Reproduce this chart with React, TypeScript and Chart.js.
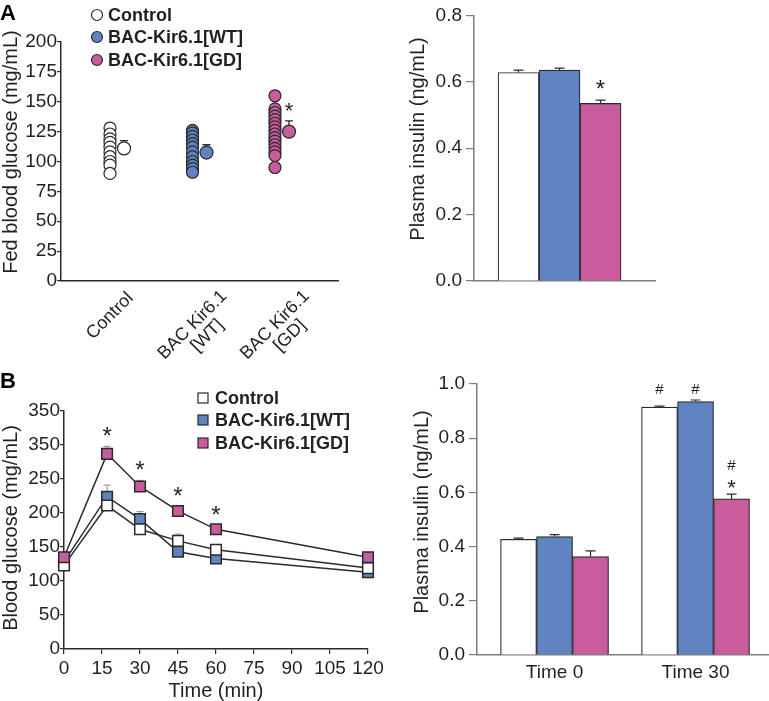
import React, { useEffect, useRef } from "react";
import { Chart, registerables } from "chart.js";

Chart.register(...registerables);

const FONT = "'Liberation Sans', Arial, Helvetica, sans-serif";
Chart.defaults.font.family = FONT;

const TEXT = "#231f20";
const DARK = "#2a2a2a";
const GREY_AXIS = "#7d7d7d";
const ERR_GREY = "#8c8c8c";
const BLUE = "#6083c2";
const PINK = "#c95c9c";
const WHITE = "#ffffff";

// ---------- Panel A (left): fed blood glucose ----------
const groupNames = ["Control", "BAC-Kir6.1[WT]", "BAC-Kir6.1[GD]"];
const groupAxisLabels = [["Control"], ["BAC Kir6.1", "[WT]"], ["BAC Kir6.1", "[GD]"]];
const fedControl = [128, 123, 119, 116, 112, 108, 104, 100, 97, 90];
const fedWT = [126, 124, 121, 118, 115, 112, 108, 104, 100, 97, 94, 91];
const fedGD = [155, 144, 141, 138, 135, 132, 129, 126, 123, 120, 117, 114, 111, 108, 105, 95];
const fedMean = [111, 107.5, 125];
const fedSem = [6.5, 6.5, 9];
const fedStarGroups = [2];

// ---------- Panel A (right): plasma insulin ----------
const insulinA = [0.628, 0.635, 0.535];
const insulinASem = [0.007, 0.006, 0.01];
const insulinAStars = [2];

// ---------- Panel B (left): glucose tolerance ----------
const ipgttTimes = [0, 17, 30, 45, 60, 120];
const ipgttControl = [123, 211, 176, 159, 146, 119];
const ipgttWT = [128, 224, 191, 143, 133, 113];
const ipgttGD = [135, 287, 239, 203, 176, 135];
const ipgttControlSem = [3, 5, 5, 10, 7, 4];
const ipgttWTSem = [3, 17, 11, 4, 4, 3];
const ipgttGDSem = [4, 11, 9, 7, 5, 4];
const ipgttStarIdx = [1, 2, 3, 4];
const ipgttYTickLabels = ["0", "50", "100", "150", "200", "250", "350", "350"];

// ---------- Panel B (right): plasma insulin at time 0 / 30 ----------
const insulinBTimes = ["Time 0", "Time 30"];
const insulinBControl = [0.427, 0.915];
const insulinBWT = [0.437, 0.935];
const insulinBGD = [0.363, 0.576];
const insulinBControlSem = [0.004, 0.003];
const insulinBWTSem = [0.007, 0.006];
const insulinBGDSem = [0.021, 0.018];
const insulinBMarks = [
  { ds: 0, idx: 1, text: "#", y: 0.983 },
  { ds: 1, idx: 1, text: "#", y: 0.983 },
  { ds: 2, idx: 1, text: "#", y: 0.702 },
  { ds: 2, idx: 1, text: "*", y: 0.632 },
];

const groupFill = [WHITE, BLUE, PINK];
const MEAN_DX = 0.17;

function valOf(raw: any) {
  return typeof raw === "number" ? raw : raw.y;
}

function drawErrors(chart: any, dsIndex: number, sems: number[], color: string, capHalf: number, lw: number) {
  const meta = chart.getDatasetMeta(dsIndex);
  const ys = chart.scales.y;
  const ctx = chart.ctx;
  const data = chart.data.datasets[dsIndex].data;
  ctx.save();
  ctx.strokeStyle = color;
  ctx.lineWidth = lw;
  meta.data.forEach((el: any, i: number) => {
    const v = valOf(data[i]);
    const base = ys.getPixelForValue(v);
    const top = ys.getPixelForValue(v + sems[i]);
    ctx.beginPath();
    ctx.moveTo(el.x, base);
    ctx.lineTo(el.x, top);
    ctx.moveTo(el.x - capHalf, top);
    ctx.lineTo(el.x + capHalf, top);
    ctx.stroke();
  });
  ctx.restore();
}

function centeredGlyph(ctx: any, text: string, x: number, cy: number, font: string, color: string) {
  ctx.save();
  ctx.font = font;
  ctx.fillStyle = color;
  ctx.textAlign = "center";
  ctx.textBaseline = "alphabetic";
  const m = ctx.measureText(text);
  const asc = m.actualBoundingBoxAscent || 0;
  const desc = m.actualBoundingBoxDescent || 0;
  ctx.fillText(text, x, cy + (asc - desc) / 2);
  ctx.restore();
}

function yTitle(ctx: any, text: string, cx: number, cy: number) {
  ctx.save();
  ctx.translate(cx, cy);
  ctx.rotate(-Math.PI / 2);
  ctx.font = `20px ${FONT}`;
  ctx.fillStyle = TEXT;
  ctx.textAlign = "center";
  ctx.textBaseline = "middle";
  ctx.fillText(text, 0, 0);
  ctx.restore();
}

function panelLetter(ctx: any, letter: string, x: number, y: number) {
  ctx.save();
  ctx.font = `bold 22px ${FONT}`;
  ctx.fillStyle = "#000";
  ctx.textAlign = "left";
  ctx.textBaseline = "alphabetic";
  ctx.fillText(letter, x, y);
  ctx.restore();
}

const tickFont = { size: 19, lineHeight: 1.2 };
const titleFont = { size: 20, lineHeight: 1 };

// ---------- configs ----------
function makeScatterA(): any {
  const groups = [fedControl, fedWT, fedGD];
  return {
    type: "scatter",
    data: {
      datasets: [
        ...groups.map((vals, gi) => ({
          label: groupNames[gi],
          data: vals.map((v) => ({ x: gi, y: v })),
          backgroundColor: groupFill[gi],
          borderColor: DARK,
          borderWidth: 1.2,
          pointRadius: 6,
          clip: false,
        })),
        {
          label: "mean",
          data: fedMean.map((m, gi) => ({ x: gi + MEAN_DX, y: m })),
          backgroundColor: groupFill,
          borderColor: DARK,
          borderWidth: 1.2,
          pointRadius: 6.5,
          clip: false,
        },
      ],
    },
    options: {
      responsive: false,
      animation: false,
      devicePixelRatio: 1,
      layout: { padding: { left: 0, top: 42, right: 42, bottom: 0 } },
      plugins: { legend: { display: false }, tooltip: { enabled: false } },
      scales: {
        x: {
          type: "linear",
          min: -0.594,
          max: 2.764,
          grid: { display: false, drawTicks: false, tickLength: 0 },
          ticks: { display: false },
          border: { display: true, color: DARK, width: 1.5 },
          afterFit: (s: any) => {
            s.height = 79;
          },
        },
        y: {
          min: 0,
          max: 200,
          ticks: { stepSize: 25, padding: 0, color: TEXT, font: tickFont },
          grid: { display: true, drawOnChartArea: false, drawTicks: true, tickLength: 4, color: DARK, lineWidth: 1.2 },
          border: { display: true, color: DARK, width: 1.5 },
          afterFit: (s: any) => {
            s.width = 61;
          },
        },
      },
    },
    plugins: [
      {
        id: "aScatterDecor",
        beforeDatasetsDraw(chart: any) {
          drawErrors(chart, 3, fedSem, DARK, 4, 1.3);
        },
        afterDraw(chart: any) {
          const ctx = chart.ctx;
          const xs = chart.scales.x;
          const ys = chart.scales.y;
          panelLetter(ctx, "A", 0, 20);
          yTitle(ctx, "Fed blood glucose (mg/mL)", 11, 152);
          // legend
          const rows = [15, 37, 60];
          ctx.save();
          groupNames.forEach((name, i) => {
            ctx.beginPath();
            ctx.arc(97, rows[i], 5.5, 0, Math.PI * 2);
            ctx.fillStyle = groupFill[i];
            ctx.fill();
            ctx.lineWidth = 1.2;
            ctx.strokeStyle = DARK;
            ctx.stroke();
            ctx.font = `bold 18px ${FONT}`;
            ctx.fillStyle = TEXT;
            ctx.textAlign = "left";
            ctx.textBaseline = "middle";
            ctx.fillText(name, 108, rows[i] + 1);
          });
          ctx.restore();
          // rotated category labels
          ctx.save();
          ctx.font = `18px ${FONT}`;
          ctx.fillStyle = TEXT;
          ctx.textAlign = "center";
          ctx.textBaseline = "middle";
          groupAxisLabels.forEach((lines, i) => {
            const px = xs.getPixelForValue(i);
            const py = chart.chartArea.bottom + 35 + (lines.length - 1) * 9;
            ctx.save();
            ctx.translate(px, py);
            ctx.rotate(-Math.PI / 4);
            lines.forEach((line, j) => ctx.fillText(line, j * 3, j * 18));
            ctx.restore();
          });
          ctx.restore();
          // significance stars
          fedStarGroups.forEach((g) => {
            const x = xs.getPixelForValue(g + MEAN_DX);
            const y = ys.getPixelForValue(fedMean[g] + fedSem[g]) - 14;
            centeredGlyph(ctx, "*", x, y, `22px ${FONT}`, TEXT);
          });
        },
      },
    ],
  };
}

function makeBarA(): any {
  const sems = insulinASem;
  return {
    type: "bar",
    data: {
      datasets: insulinA.map((v, i) => ({
        label: groupNames[i],
        data: [{ x: 0, y: v }],
        backgroundColor: groupFill[i],
        borderColor: DARK,
        borderWidth: 1.2,
        borderSkipped: "bottom",
        barThickness: 41,
      })),
    },
    options: {
      responsive: false,
      animation: false,
      devicePixelRatio: 1,
      layout: { padding: { left: 28, top: 13, right: 114, bottom: 0 } },
      plugins: { legend: { display: false }, tooltip: { enabled: false } },
      scales: {
        x: {
          type: "linear",
          min: -0.945,
          max: 1.055,
          offset: false,
          grid: { display: false, drawTicks: false, tickLength: 0 },
          ticks: { display: false },
          border: { display: true, color: GREY_AXIS, width: 1.5 },
          afterFit: (s: any) => {
            s.height = 79;
          },
        },
        y: {
          min: 0,
          max: 0.8,
          ticks: { stepSize: 0.2, padding: 4, color: TEXT, font: tickFont, callback: (v: any) => Number(v).toFixed(1) },
          grid: { display: true, drawOnChartArea: false, drawTicks: true, tickLength: 8, color: GREY_AXIS, lineWidth: 1.2 },
          border: { display: true, color: GREY_AXIS, width: 1.5 },
          afterFit: (s: any) => {
            s.width = 66;
          },
        },
      },
    },
    plugins: [
      {
        id: "aBarDecor",
        afterDatasetsDraw(chart: any) {
          insulinA.forEach((_, i) => drawErrors(chart, i, [sems[i]], DARK, 5, 1.2));
          const ys = chart.scales.y;
          insulinAStars.forEach((i) => {
            const el = chart.getDatasetMeta(i).data[0];
            const y = ys.getPixelForValue(insulinA[i] + sems[i]) - 16;
            centeredGlyph(chart.ctx, "*", el.x, y, `24px ${FONT}`, TEXT);
          });
        },
        afterDraw(chart: any) {
          yTitle(chart.ctx, "Plasma insulin (ng/mL)", 38, 139);
        },
      },
    ],
  };
}

function makeLineB(): any {
  const series = [
    { name: groupNames[0], vals: ipgttControl, sem: ipgttControlSem, fill: WHITE, order: 1 },
    { name: groupNames[1], vals: ipgttWT, sem: ipgttWTSem, fill: BLUE, order: 2 },
    { name: groupNames[2], vals: ipgttGD, sem: ipgttGDSem, fill: PINK, order: 0 },
  ];
  return {
    type: "line",
    data: {
      datasets: series.map((s) => ({
        label: s.name,
        data: s.vals.map((v, i) => ({ x: ipgttTimes[i], y: v })),
        borderColor: DARK,
        borderWidth: 1.5,
        backgroundColor: s.fill,
        pointBackgroundColor: s.fill,
        pointBorderColor: DARK,
        pointBorderWidth: 1.5,
        pointStyle: "rect",
        pointRadius: 7.5,
        tension: 0,
        order: s.order,
        clip: false,
      })),
    },
    options: {
      responsive: false,
      animation: false,
      devicePixelRatio: 1,
      layout: { padding: { left: 1, top: 61, right: 22, bottom: 0 } },
      plugins: { legend: { display: false }, tooltip: { enabled: false } },
      scales: {
        x: {
          type: "linear",
          min: 0,
          max: 120,
          ticks: { stepSize: 15, padding: 3, color: TEXT, font: tickFont, maxRotation: 0 },
          grid: { display: true, drawOnChartArea: false, drawTicks: true, tickLength: 5, color: DARK, lineWidth: 1.2 },
          border: { display: true, color: DARK, width: 1.5 },
          title: { display: true, text: "Time (min)", color: TEXT, font: titleFont, padding: 0 },
          afterFit: (s: any) => {
            s.height = 52;
          },
        },
        y: {
          min: 0,
          max: 350,
          ticks: { stepSize: 50, padding: 0, color: TEXT, font: tickFont, callback: (_v: any, i: number) => ipgttYTickLabels[i] },
          grid: { display: true, drawOnChartArea: false, drawTicks: true, tickLength: 4, color: DARK, lineWidth: 1.2 },
          border: { display: true, color: DARK, width: 1.5 },
          afterFit: (s: any) => {
            s.width = 63;
          },
        },
      },
    },
    plugins: [
      {
        id: "bLineDecor",
        beforeDatasetsDraw(chart: any) {
          series.forEach((s, i) => drawErrors(chart, i, s.sem, ERR_GREY, 3.5, 1));
        },
        afterDraw(chart: any) {
          const ctx = chart.ctx;
          const ys = chart.scales.y;
          panelLetter(ctx, "B", 0, 38);
          yTitle(ctx, "Blood glucose (mg/mL)", 11, 178);
          const rows = [48, 70, 93];
          ctx.save();
          series.forEach((s, i) => {
            ctx.fillStyle = s.fill;
            ctx.fillRect(198, rows[i] - 5, 10, 10);
            ctx.lineWidth = 1.2;
            ctx.strokeStyle = DARK;
            ctx.strokeRect(198, rows[i] - 5, 10, 10);
            ctx.font = `bold 18px ${FONT}`;
            ctx.fillStyle = TEXT;
            ctx.textAlign = "left";
            ctx.textBaseline = "middle";
            ctx.fillText(s.name, 215, rows[i] + 1);
          });
          ctx.restore();
          const meta = chart.getDatasetMeta(2);
          ipgttStarIdx.forEach((i) => {
            const el = meta.data[i];
            const y = ys.getPixelForValue(ipgttGD[i] + ipgttGDSem[i]) - 15;
            centeredGlyph(ctx, "*", el.x, y, `24px ${FONT}`, TEXT);
          });
        },
      },
    ],
  };
}

function makeBarB(): any {
  const series = [
    { name: groupNames[0], vals: insulinBControl, sem: insulinBControlSem, fill: WHITE },
    { name: groupNames[1], vals: insulinBWT, sem: insulinBWTSem, fill: BLUE },
    { name: groupNames[2], vals: insulinBGD, sem: insulinBGDSem, fill: PINK },
  ];
  return {
    type: "bar",
    data: {
      datasets: series.map((s) => ({
        label: s.name,
        data: s.vals.map((v, i) => ({ x: i, y: v })),
        backgroundColor: s.fill,
        borderColor: DARK,
        borderWidth: 1.2,
        borderSkipped: "bottom",
        barThickness: 36,
      })),
    },
    options: {
      responsive: false,
      animation: false,
      devicePixelRatio: 1,
      layout: { padding: { left: 32, top: 34, right: 0, bottom: 0 } },
      plugins: { legend: { display: false }, tooltip: { enabled: false } },
      scales: {
        x: {
          type: "linear",
          min: -0.55,
          max: 1.521,
          offset: false,
          afterBuildTicks: (s: any) => {
            s.ticks = insulinBTimes.map((_, i) => ({ value: i }));
          },
          ticks: { padding: 6, color: TEXT, font: tickFont, maxRotation: 0, autoSkip: false, callback: (v: any) => insulinBTimes[v] },
          grid: { display: false, drawTicks: false, tickLength: 0 },
          border: { display: true, color: GREY_AXIS, width: 1.5 },
          afterFit: (s: any) => {
            s.height = 46;
          },
        },
        y: {
          min: 0,
          max: 1.0,
          ticks: { stepSize: 0.2, padding: 4, color: TEXT, font: tickFont, callback: (v: any) => Number(v).toFixed(1) },
          grid: { display: true, drawOnChartArea: false, drawTicks: true, tickLength: 8, color: GREY_AXIS, lineWidth: 1.2 },
          border: { display: true, color: GREY_AXIS, width: 1.5 },
          afterFit: (s: any) => {
            s.width = 65;
          },
        },
      },
    },
    plugins: [
      {
        id: "bBarDecor",
        afterDatasetsDraw(chart: any) {
          series.forEach((s, i) => drawErrors(chart, i, s.sem, DARK, 5, 1.2));
          const ys = chart.scales.y;
          insulinBMarks.forEach((m) => {
            const el = chart.getDatasetMeta(m.ds).data[m.idx];
            const font = m.text === "#" ? `15px ${FONT}` : `22px ${FONT}`;
            centeredGlyph(chart.ctx, m.text, el.x, ys.getPixelForValue(m.y), font, TEXT);
          });
        },
        afterDraw(chart: any) {
          yTitle(chart.ctx, "Plasma insulin (ng/mL)", 42, 162);
        },
      },
    ],
  };
}

function ChartCanvas(props: { left: number; top: number; width: number; height: number; make: () => any }) {
  const ref = useRef<HTMLCanvasElement>(null);
  useEffect(() => {
    const chart = new Chart(ref.current as HTMLCanvasElement, props.make());
    return () => chart.destroy();
  }, []);
  return (
    <canvas
      ref={ref}
      width={props.width}
      height={props.height}
      style={{ position: "absolute", left: props.left, top: props.top, width: props.width, height: props.height }}
    />
  );
}

export default function App() {
  return (
    <div style={{ position: "fixed", left: 0, top: 0, width: 769, height: 701, background: "#fff", overflow: "hidden" }}>
      <ChartCanvas left={0} top={0} width={380} height={360} make={makeScatterA} />
      <ChartCanvas left={380} top={0} width={389} height={360} make={makeBarA} />
      <ChartCanvas left={0} top={350} width={390} height={351} make={makeLineB} />
      <ChartCanvas left={380} top={350} width={389} height={351} make={makeBarB} />
    </div>
  );
}
